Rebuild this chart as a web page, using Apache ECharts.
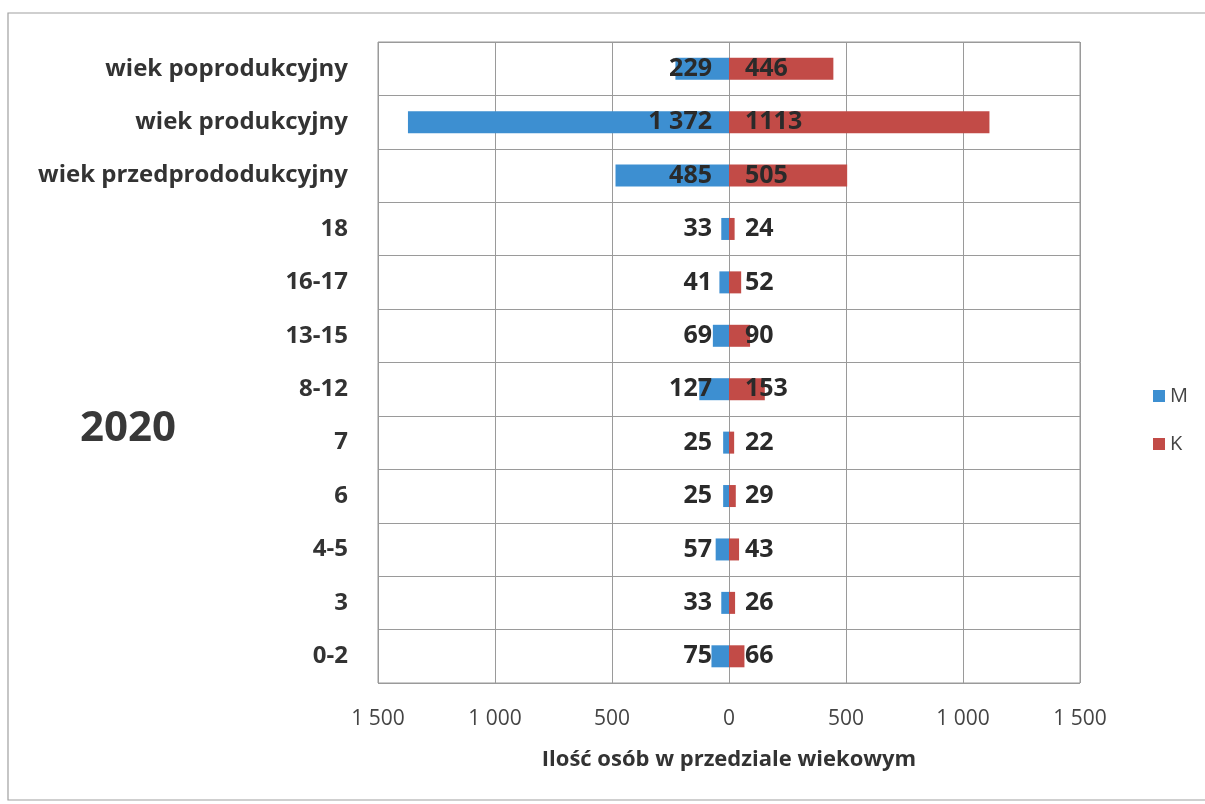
<!DOCTYPE html>
<html>
<head>
<meta charset="utf-8">
<script src="https://cdn.jsdelivr.net/npm/echarts@6/dist/echarts.min.js"></script>
<style>
  html, body { margin: 0; padding: 0; background: #fff; }
  #chart { width: 1205px; height: 804px; }
</style>
</head>
<body>
<div id="chart"></div>
<script>
// Dane (od dołu do góry osi)
const kategorie = ['0-2', '3', '4-5', '6', '7', '8-12', '13-15', '16-17', '18',
    'wiek przedprododukcyjny', 'wiek produkcyjny', 'wiek poprodukcyjny'];
const mezczyzni = [75, 33, 57, 25, 25, 127, 69, 41, 33, 485, 1372, 229];
const kobiety = [66, 26, 43, 29, 22, 153, 90, 52, 24, 505, 1113, 446];
const rok = '2020';

const font = '"Open Sans", "DejaVu Sans", sans-serif';

// format z odstępem tysięcy: 1 372
function fmt(v) {
    return String(Math.abs(v)).replace(/\B(?=(\d{3})+(?!\d))/g, ' ');
}

const chart = echarts.init(document.getElementById('chart'));
const option = {
    backgroundColor: '#fff',
    textStyle: { fontFamily: font },
    graphic: [
        {
            type: 'rect',
            shape: { x: 8, y: 13, width: 1210, height: 787 },
            style: { fill: 'none', stroke: '#a0a0a0', lineWidth: 1.2 }
        },
        {
            type: 'text',
            left: 80, top: 408,
            style: { text: rok, font: 'bold 42px ' + font, fill: '#383838' }
        }
    ],
    legend: {
        orient: 'vertical',
        left: 1148, top: 381,
        itemWidth: 12, itemHeight: 12, itemGap: 28,
        icon: 'rect',
        textStyle: { fontSize: 20, color: '#444', fontFamily: font },
        data: ['M', 'K']
    },
    grid: { left: 378, right: 125, top: 42, bottom: 121, show: true, borderColor: '#999', borderWidth: 1 },
    xAxis: {
        type: 'value',
        min: -1500, max: 1500, interval: 500,
        name: 'Ilość osób w przedziale wiekowym',
        nameLocation: 'middle',
        nameGap: 66,
        nameTextStyle: { fontSize: 22, fontWeight: 'bold', color: '#333', fontFamily: font },
        axisLine: { show: false },
        axisTick: { show: false },
        axisLabel: { formatter: fmt, fontSize: 21, color: '#444', margin: 26, fontFamily: font },
        splitLine: { lineStyle: { color: '#9a9a9a', width: 1 } }
    },
    yAxis: {
        type: 'category',
        data: kategorie,
        axisLine: { show: false },
        axisTick: { show: false },
        axisLabel: { fontSize: 24, fontWeight: 'bold', color: '#333', margin: 30, fontFamily: font },
        splitLine: { show: true, lineStyle: { color: '#9a9a9a', width: 1 } }
    },
    series: [
        {
            name: 'M',
            type: 'bar',
            data: mezczyzni.map(v => -v),
            barWidth: 22,
            barGap: '-100%',
            itemStyle: { color: '#3d8fd1' },
            label: {
                show: true, position: 'insideRight', distance: 17,
                formatter: p => fmt(p.value),
                fontSize: 25, fontWeight: 'bold', color: '#2a2a2a', fontFamily: font
            }
        },
        {
            name: 'K',
            type: 'bar',
            data: kobiety,
            barWidth: 22,
            itemStyle: { color: '#c24b47' },
            label: {
                show: true, position: 'insideLeft', distance: 16,
                fontSize: 25, fontWeight: 'bold', color: '#2a2a2a', fontFamily: font
            }
        }
    ]
};
chart.setOption(option);
window.addEventListener('resize', () => chart.resize());
</script>
</body>
</html>
